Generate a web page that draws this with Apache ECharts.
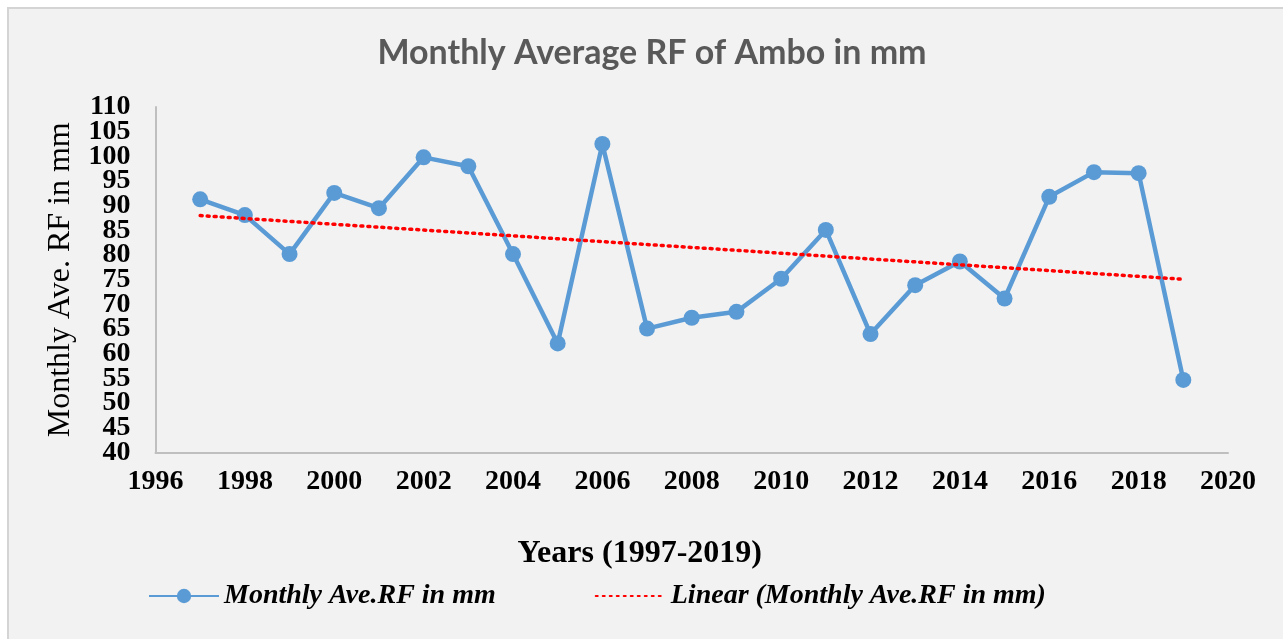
<!DOCTYPE html>
<html>
<head>
<meta charset="utf-8">
<script src="https://cdn.jsdelivr.net/npm/echarts@6/dist/echarts.min.js"></script>
<style>
html,body{margin:0;padding:0;background:#ffffff;}
#frame{position:absolute;left:7px;top:7px;width:1290px;height:650px;border-left:2px solid #d4d4d4;border-top:2px solid #d4d4d4;background:#f2f2f2;}
#chart{position:absolute;left:0;top:0;width:1283px;height:639px;}
</style>
</head>
<body>
<div id="frame"></div>
<div id="chart"></div>
<script>
const years = [1997,1998,1999,2000,2001,2002,2003,2004,2005,2006,2007,2008,2009,2010,2011,2012,2013,2014,2015,2016,2017,2018,2019];
const rainfall = [91.3,88.1,80.2,92.6,89.5,99.8,98.0,80.2,62.1,102.5,65.1,67.3,68.5,75.2,85.1,64.0,73.9,78.7,71.2,91.8,96.8,96.6,54.7];
const trendYears = [1997, 2019];
const trendValues = [88.0, 75.1];
const seriesName = 'Monthly Ave.RF in mm';
const trendName = 'Linear (Monthly Ave.RF in mm)';

const yLabelStyle = {fontFamily: 'Liberation Serif', fontWeight: 'bold', fontSize: 28, color: '#000', margin: 25,
  showMinLabel: true, showMaxLabel: true, hideOverlap: false};

const chart = echarts.init(document.getElementById('chart'), null, {renderer:'canvas'});
chart.setOption({
  backgroundColor: 'transparent',
  animation: false,
  title: {
    text: 'Monthly Average RF of Ambo in mm',
    left: 647, top: 31, textAlign: 'center',
    textStyle: {fontFamily: 'Lato', fontWeight: 'bold', fontSize: 34, color: '#595959'}
  },
  grid: {left: 155.5, right: 55, top: 107, bottom: 186.5, containLabel: false},
  xAxis: {
    type: 'value', min: 1996, max: 2020, interval: 2,
    name: 'Years (1997-2019)', nameLocation: 'middle', nameGap: 85,
    nameTextStyle: {fontFamily: 'Liberation Serif', fontWeight: 'bold', fontSize: 32, color: '#000', padding: [0, 104, 0, 0]},
    axisLine: {lineStyle: {color: '#bfbfbf', width: 2}},
    axisTick: {show: false},
    splitLine: {show: false},
    axisLabel: {fontFamily: 'Liberation Serif', fontWeight: 'bold', fontSize: 28, color: '#000', margin: 15,
      showMinLabel: true, showMaxLabel: true, hideOverlap: false,
      formatter: v => String(v)}
  },
  yAxis: [
    {
      type: 'value', min: 40, max: 110, interval: 5, position: 'left',
      name: 'Monthly Ave. RF in mm', nameLocation: 'middle', nameGap: 79, nameRotate: 90,
      nameTextStyle: {fontFamily: 'Liberation Serif', fontSize: 32, color: '#000'},
      axisLine: {show: true, lineStyle: {color: '#bfbfbf', width: 2}},
      axisTick: {show: false},
      splitLine: {show: false},
      axisLabel: Object.assign({}, yLabelStyle, {formatter: v => (Math.round(v) % 10 === 0 ? String(v) : '')})
    },
    {
      type: 'value', min: 40, max: 110, interval: 5, position: 'left', offset: 0,
      axisLine: {show: false},
      axisTick: {show: false},
      splitLine: {show: false},
      axisLabel: Object.assign({}, yLabelStyle, {showMinLabel: false, showMaxLabel: false,
        formatter: v => (Math.round(v) % 10 === 5 ? String(v) : '')})
    }
  ],
  legend: {
    bottom: 24, left: 143,
    itemWidth: 70, itemHeight: 18, itemGap: 99,
    textStyle: {fontFamily: 'Liberation Serif', fontStyle: 'italic', fontWeight: 'bold', fontSize: 28, color: '#000'},
    data: [
      {name: seriesName},
      {name: trendName, itemStyle: {opacity: 0}}
    ]
  },
  series: [
    {
      name: seriesName, type: 'line', yAxisIndex: 0,
      data: years.map((y, i) => [y, rainfall[i]]),
      symbol: 'circle', symbolSize: 16,
      lineStyle: {color: '#5b9bd5', width: 4.5},
      itemStyle: {color: '#5b9bd5'},
      z: 3
    },
    {
      name: trendName, type: 'line', yAxisIndex: 0,
      data: trendYears.map((y, i) => [y, trendValues[i]]),
      symbol: 'none', showSymbol: false,
      lineStyle: {color: '#ff0000', width: 3.5, type: [2, 5], cap: 'round'},
      itemStyle: {color: '#ff0000'},
      z: 4
    }
  ]
});
</script>
</body>
</html>
